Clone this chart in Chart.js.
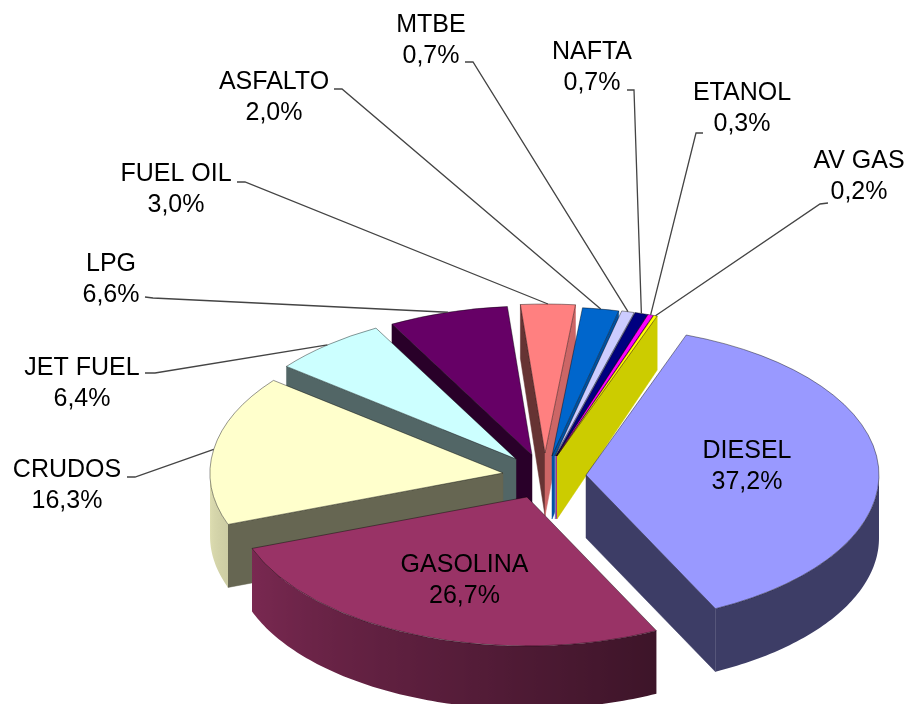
<!DOCTYPE html>
<html>
<head>
<meta charset="utf-8">
<style>
  html, body { margin: 0; padding: 0; background: #fff; }
  canvas { display: block; }
</style>
<script src="https://cdn.jsdelivr.net/npm/chart.js@4"></script>
</head>
<body>
<canvas id="grafico" width="909" height="704"></canvas>
<script>
// Datos del grafico
const categorias = ["DIESEL", "GASOLINA", "CRUDOS", "JET FUEL", "LPG", "FUEL OIL", "ASFALTO", "MTBE", "NAFTA", "ETANOL", "AV GAS"];
const valores = [37.2, 26.7, 16.3, 6.4, 6.6, 3.0, 2.0, 0.7, 0.7, 0.3, 0.2];
const colores = ["#9999FF", "#993366", "#FFFFCC", "#CCFFFF", "#660066", "#FF8080", "#0066CC", "#CCCCFF", "#000080", "#FF00FF", "#FFFF00"];

// Vertice de cada porcion en pantalla (la explosion del pastel 3D)
const vertices = [[586, 475], [527, 497], [503, 473], [516, 459], [532, 455], [545, 453], [552, 456], [555, 456], [556, 456], [556.5, 456], [557, 456]];
// Centro del texto y lineas base
const etiquetas = [[747, 458], [464.5, 572], [67, 477], [82, 375], [111, 271], [176, 181], [274, 89], [431, 32], [592, 59], [742, 100], [859, 168]];
// Inicio y codo de la linea guia (null = sin linea)
const guias = [null, null, [[127, 477], [135, 477]], [[145, 373], [155, 373]], [[145, 297], [153, 298]], [[237, 182], [245, 182]], [[334, 89], [342, 89]], [[465, 62], [473, 62]], [[627, 90], [634, 90]], [[703, 133], [696, 133]], [[828, 203], [820, 204]]];

// Orden de pintado de las paredes, de atras hacia adelante
const ordenParedes = [4, 5, 6, 7, 8, 9, 10, 3, 2, 1, 0];

const RADIO = 293;
const K = 149 / 293; // aplastamiento vertical
const ALTO_LINEA = 31;

function sombra(hex, f) {
  const n = parseInt(hex.slice(1), 16);
  const r = Math.round(((n >> 16) & 255) * f);
  const g = Math.round(((n >> 8) & 255) * f);
  const b = Math.round((n & 255) * f);
  return `rgb(${r},${g},${b})`;
}

// la pared de atras se ve algo mas baja
function profundidad(y) {
  return Math.max(54, Math.min(63, 54 + (y - 318) * 9 / 137));
}

function punta(arc, ang) {
  return { x: arc.x + Math.cos(ang) * RADIO, y: arc.y * K + Math.sin(ang) * RADIO * K };
}

function caraCorte(ctx, arc, ang, normal, color) {
  if (Math.sin(normal) <= 0) return; // cara que no mira al frente
  const t = { x: arc.x, y: arc.y * K };
  const p = punta(arc, ang);
  const c = sombra(color, Math.cos(normal) > 0.5 ? 0.8 : 0.4);
  ctx.fillStyle = c;
  ctx.strokeStyle = c;
  ctx.lineWidth = 0.5;
  ctx.beginPath();
  ctx.moveTo(t.x, t.y);
  ctx.lineTo(p.x, p.y);
  ctx.lineTo(p.x, p.y + profundidad(p.y));
  ctx.lineTo(t.x, t.y + profundidad(t.y));
  ctx.closePath();
  ctx.fill();
  ctx.stroke();
}

function paredExterior(ctx, arc, color) {
  // solo la parte delantera del arco (seno positivo)
  const a0 = Math.max(arc.startAngle, 0);
  const a1 = Math.min(arc.endAngle, Math.PI);
  if (a1 <= a0) return;
  const paso = Math.PI / 180;
  const arriba = [];
  for (let a = a0; a < a1; a += paso) arriba.push(punta(arc, a));
  arriba.push(punta(arc, a1));

  const x0 = arriba[0].x, x1 = arriba[arriba.length - 1].x;
  const grad = ctx.createLinearGradient(x0, 0, x1, 0);
  arriba.forEach((p, i) => {
    const grados = (a0 + (a1 - a0) * i / (arriba.length - 1)) * 180 / Math.PI;
    const f = Math.min(0.9, Math.max(0.4, 0.4 + 0.4 * (grados - 64) / 96));
    grad.addColorStop(Math.max(0, Math.min(1, (p.x - x0) / (x1 - x0))), sombra(color, f));
  });

  ctx.fillStyle = grad;
  ctx.beginPath();
  arriba.forEach((p, i) => (i ? ctx.lineTo(p.x, p.y) : ctx.moveTo(p.x, p.y)));
  for (let i = arriba.length - 1; i >= 0; i--) ctx.lineTo(arriba[i].x, arriba[i].y + profundidad(arriba[i].y));
  ctx.closePath();
  ctx.fill();
}

const pastel3d = {
  id: "pastel3d",
  afterDatasetsUpdate(chart) {
    chart.getDatasetMeta(0).data.forEach((arc, i) => {
      arc.x = vertices[i][0];
      arc.y = vertices[i][1] / K;
    });
  },
  beforeDatasetsDraw(chart) {
    const ctx = chart.ctx;
    const arcs = chart.getDatasetMeta(0).data;
    ctx.save();
    ordenParedes.forEach(i => {
      const arc = arcs[i];
      caraCorte(ctx, arc, arc.startAngle, arc.startAngle - Math.PI / 2, colores[i]);
      caraCorte(ctx, arc, arc.endAngle, arc.endAngle + Math.PI / 2, colores[i]);
      paredExterior(ctx, arc, colores[i]);
    });
    ctx.scale(1, K);
  },
  afterDatasetsDraw(chart) {
    const ctx = chart.ctx;
    const arcs = chart.getDatasetMeta(0).data;
    ctx.restore();

    // Lineas guia
    ctx.save();
    ctx.strokeStyle = "#444";
    ctx.lineWidth = 1.3;
    guias.forEach((g, i) => {
      if (!g) return;
      const p = punta(arcs[i], (arcs[i].startAngle + arcs[i].endAngle) / 2);
      ctx.beginPath();
      ctx.moveTo(g[0][0], g[0][1]);
      ctx.lineTo(g[1][0], g[1][1]);
      ctx.lineTo(p.x, p.y);
      ctx.stroke();
    });

    // Etiquetas
    ctx.fillStyle = "#000";
    ctx.font = "25px 'Liberation Sans', Arial, sans-serif";
    ctx.textAlign = "center";
    ctx.textBaseline = "alphabetic";
    categorias.forEach((c, i) => {
      const [x, y] = etiquetas[i];
      ctx.fillText(c, x, y);
      ctx.fillText(valores[i].toFixed(1).replace(".", ",") + "%", x, y + ALTO_LINEA);
    });
    ctx.restore();
  }
};

new Chart(document.getElementById("grafico"), {
  type: "pie",
  data: {
    labels: categorias,
    datasets: [{
      data: valores,
      backgroundColor: colores,
      borderColor: "rgba(0,0,0,0.55)",
      borderWidth: 1,
      radius: RADIO,
      clip: false
    }]
  },
  options: {
    responsive: false,
    animation: false,
    rotation: 20,
    layout: { padding: 0 },
    plugins: { legend: { display: false }, tooltip: { enabled: false } }
  },
  plugins: [pastel3d]
});
</script>
</body>
</html>
